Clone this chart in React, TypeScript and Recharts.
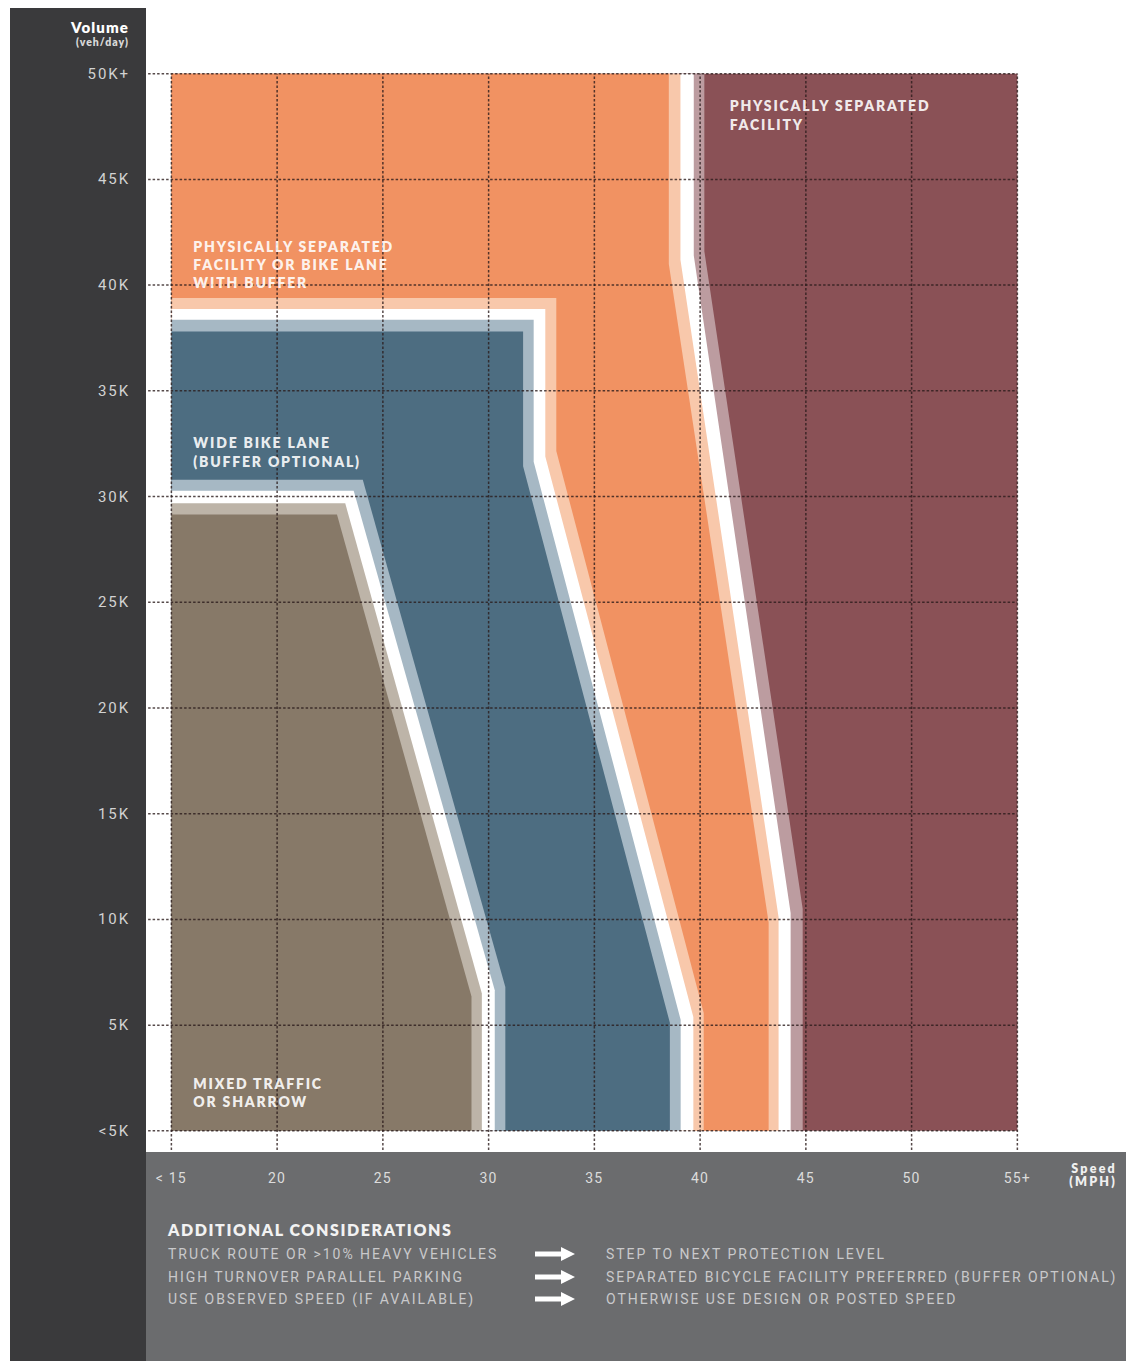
import React from 'react';
import { ComposedChart, Area, XAxis, YAxis, ReferenceLine, ReferenceDot } from 'recharts';

// axis ticks
const speedTicks = [15, 20, 25, 30, 35, 40, 45, 50, 55];
const speedLabels = ['< 15', '20', '25', '30', '35', '40', '45', '50', '55+'];
const volumeTicks = [0, 5, 10, 15, 20, 25, 30, 35, 40, 45, 50];
const volumeLabels = ['<5K', '5K', '10K', '15K', '20K', '25K', '30K', '35K', '40K', '45K', '50K+'];

// whole field (physically separated facility)
const facilityField = [
  { s: 15, v: 50 },
  { s: 55, v: 50 },
];

// boundary: separated facility / orange zone, outer edge -> inner edge
const sepTint = [
  { s: 15, v: 50 }, { s: 40.2, v: 50 }, { s: 40.2, v: 41.6 }, { s: 44.85, v: 10.5 }, { s: 44.85, v: 0 },
];
const sepGap = [
  { s: 15, v: 50 }, { s: 39.7, v: 50 }, { s: 39.7, v: 41.4 }, { s: 44.28, v: 10.3 }, { s: 44.28, v: 0 },
];
const bufferTintHigh = [
  { s: 15, v: 50 }, { s: 39.07, v: 50 }, { s: 39.07, v: 41.2 }, { s: 43.71, v: 10.1 }, { s: 43.71, v: 0 },
];
const bufferZone = [
  { s: 15, v: 50 }, { s: 38.52, v: 50 }, { s: 38.52, v: 41.0 }, { s: 43.24, v: 9.85 }, { s: 43.24, v: 0 },
];

// boundary: orange zone / wide bike lane
const bufferTintLow = [
  { s: 15, v: 39.39 }, { s: 33.2, v: 39.39 }, { s: 33.2, v: 32.15 }, { s: 40.17, v: 5.58 }, { s: 40.17, v: 0 },
];
const bufferGap = [
  { s: 15, v: 38.87 }, { s: 32.68, v: 38.87 }, { s: 32.68, v: 31.9 }, { s: 39.68, v: 5.39 }, { s: 39.68, v: 0 },
];
const laneTintHigh = [
  { s: 15, v: 38.36 }, { s: 32.13, v: 38.36 }, { s: 32.13, v: 31.65 }, { s: 39.08, v: 5.25 }, { s: 39.08, v: 0 },
];
const laneZone = [
  { s: 15, v: 37.81 }, { s: 31.63, v: 37.81 }, { s: 31.63, v: 31.43 }, { s: 38.57, v: 5.11 }, { s: 38.57, v: 0 },
];

// boundary: wide bike lane / mixed traffic
const laneTintLow = [
  { s: 15, v: 30.79 }, { s: 24.05, v: 30.79 }, { s: 30.79, v: 6.8 }, { s: 30.79, v: 0 },
];
const laneGap = [
  { s: 15, v: 30.28 }, { s: 23.62, v: 30.28 }, { s: 30.29, v: 6.65 }, { s: 30.29, v: 0 },
];
const mixedTint = [
  { s: 15, v: 29.68 }, { s: 23.22, v: 29.68 }, { s: 29.68, v: 6.5 }, { s: 29.68, v: 0 },
];
const mixedZone = [
  { s: 15, v: 29.15 }, { s: 22.83, v: 29.15 }, { s: 29.19, v: 6.35 }, { s: 29.19, v: 0 },
];

const layers: { data: { s: number; v: number }[]; fill: string }[] = [
  { data: facilityField, fill: '#8a5156' },
  { data: sepTint, fill: '#bc9ca0' },
  { data: sepGap, fill: '#ffffff' },
  { data: bufferTintHigh, fill: '#f8c8ab' },
  { data: bufferZone, fill: '#f19262' },
  { data: bufferTintLow, fill: '#f8c8ab' },
  { data: bufferGap, fill: '#ffffff' },
  { data: laneTintHigh, fill: '#a6b8c4' },
  { data: laneZone, fill: '#4d6d81' },
  { data: laneTintLow, fill: '#a6b8c4' },
  { data: laneGap, fill: '#ffffff' },
  { data: mixedTint, fill: '#bdb4a8' },
  { data: mixedZone, fill: '#877968' },
];

// zone labels, anchored at the first line's baseline
const zoneLabels = [
  { s: 41.4, v: 48.22, lines: ['PHYSICALLY SEPARATED', 'FACILITY'] },
  { s: 16.04, v: 41.59, lines: ['PHYSICALLY SEPARATED', 'FACILITY OR BIKE LANE', 'WITH BUFFER'] },
  { s: 16.04, v: 32.29, lines: ['WIDE BIKE LANE', '(BUFFER OPTIONAL)'] },
  { s: 16.04, v: 1.99, lines: ['MIXED TRAFFIC', 'OR SHARROW'] },
];

const considerations = [
  ['TRUCK ROUTE OR >10% HEAVY VEHICLES', 'STEP TO NEXT PROTECTION LEVEL'],
  ['HIGH TURNOVER PARALLEL PARKING', 'SEPARATED BICYCLE FACILITY PREFERRED (BUFFER OPTIONAL)'],
  ['USE OBSERVED SPEED (IF AVAILABLE)', 'OTHERWISE USE DESIGN OR POSTED SPEED'],
];

const gridStroke = '#2b1c1c';
const tickFont = 'Roboto, "Open Sans", sans-serif';
const labelFont = 'Lato, "DejaVu Sans", sans-serif';

function SpeedTick(props: any) {
  const { x, y, payload } = props;
  const i = speedTicks.indexOf(payload.value);
  return (
    <text x={x} y={y + 31} textAnchor="middle" fontFamily={tickFont} fontSize={14} letterSpacing={1.2} fill="#dcdcdc">
      {speedLabels[i]}
    </text>
  );
}

function VolumeTick(props: any) {
  const { x, y, payload } = props;
  const i = volumeTicks.indexOf(payload.value);
  return (
    <text x={x} y={y + 5} textAnchor="end" fontFamily={tickFont} fontSize={15} letterSpacing={1.9} fill="#d2d2d2">
      {volumeLabels[i]}
    </text>
  );
}

function makeZoneLabel(lines: string[]) {
  return function ZoneLabel(props: any) {
    const { cx, cy } = props;
    return (
      <text x={cx} y={cy} fontFamily={labelFont} fontWeight={800} fontSize={14} letterSpacing={1.8} fill="#ffffff" fillOpacity={0.9}>
        {lines.map((t, k) => (
          <tspan key={k} x={cx} dy={k === 0 ? 0 : 18.4}>
            {t}
          </tspan>
        ))}
      </text>
    );
  };
}

function Arrow() {
  return (
    <svg width={40} height={14} style={{ display: 'block' }}>
      <rect x={0} y={4.5} width={28} height={5} fill="#ffffff" />
      <polygon points="26,0 40,7 26,14" fill="#ffffff" />
    </svg>
  );
}

export default function App() {
  return (
    <div style={{ position: 'absolute', left: 0, top: 0, width: 1126, height: 1361, background: '#ffffff', overflow: 'hidden' }}>
      <div style={{ position: 'absolute', left: 10, top: 8, width: 136, height: 1353, background: '#3a3a3c' }} />
      <div style={{ position: 'absolute', left: 146, top: 1152, width: 980, height: 209, background: '#6b6c6e' }} />

      <div style={{ position: 'absolute', left: 0, top: 19, width: 129, textAlign: 'right', fontFamily: labelFont, color: '#ffffff' }}>
        <div style={{ fontSize: 15, fontWeight: 800, letterSpacing: 1.1, lineHeight: '17px' }}>Volume</div>
        <div style={{ fontSize: 10.5, fontWeight: 800, letterSpacing: 1, lineHeight: '12px', color: '#d8d8d8' }}>(veh/day)</div>
      </div>

      <div style={{ position: 'absolute', left: 0, top: 0 }}>
        <ComposedChart width={1126} height={1200} margin={{ top: 61, right: 60, left: 0, bottom: 0 }}>
          <XAxis
            type="number"
            dataKey="s"
            domain={[13.8, 57.3]}
            allowDataOverflow
            ticks={speedTicks}
            height={48}
            axisLine={false}
            tickLine={false}
            tickSize={0}
            tickMargin={0}
            tick={<SpeedTick />}
          />
          <YAxis
            type="number"
            dataKey="v"
            domain={[-1, 50.6]}
            allowDataOverflow
            ticks={volumeTicks}
            width={146}
            axisLine={false}
            tickLine={false}
            tickSize={0}
            tickMargin={16}
            tick={<VolumeTick />}
          />
          {layers.map((l, i) => (
            <Area
              key={i}
              data={l.data}
              dataKey="v"
              type="linear"
              baseValue={0}
              stroke="none"
              fill={l.fill}
              fillOpacity={1}
              dot={false}
              activeDot={false}
              isAnimationActive={false}
            />
          ))}
          {volumeTicks.map((v) => (
            <ReferenceLine
              key={'h' + v}
              segment={[{ x: 13.9, y: v }, { x: 55, y: v }]}
              stroke={gridStroke}
              strokeOpacity={0.8}
              strokeWidth={1.5}
              strokeDasharray="2.5 2"
              ifOverflow="visible"
            />
          ))}
          {speedTicks.map((s) => (
            <ReferenceLine
              key={'v' + s}
              segment={[{ x: s, y: -0.9 }, { x: s, y: 50 }]}
              stroke={gridStroke}
              strokeOpacity={0.8}
              strokeWidth={1.5}
              strokeDasharray="2.5 2"
              ifOverflow="visible"
            />
          ))}
          {zoneLabels.map((z, i) => (
            <ReferenceDot key={'z' + i} x={z.s} y={z.v} r={0} ifOverflow="visible" shape={makeZoneLabel(z.lines)} />
          ))}
        </ComposedChart>
      </div>

      <div style={{ position: 'absolute', left: 1040, top: 1162, width: 77, textAlign: 'right', fontFamily: labelFont, fontWeight: 800, fontSize: 12.5, letterSpacing: 2.2, lineHeight: '13px', color: '#f0f0f0' }}>
        <div>Speed</div>
        <div>(MPH)</div>
      </div>

      <div style={{ position: 'absolute', left: 168, top: 1220, fontFamily: labelFont, fontWeight: 800, fontSize: 16, letterSpacing: 1.6, color: '#f2f2f2', lineHeight: '20px', whiteSpace: 'nowrap' }}>
        ADDITIONAL CONSIDERATIONS
      </div>
      {considerations.map((row, i) => (
        <div key={i} style={{ position: 'absolute', left: 0, top: 1244 + i * 22.5, width: 1126, height: 20 }}>
          <div style={{ position: 'absolute', left: 168, top: 0, fontFamily: tickFont, fontSize: 14, letterSpacing: 1.95, lineHeight: '20px', color: '#c9c9cb', whiteSpace: 'nowrap' }}>
            {row[0]}
          </div>
          <div style={{ position: 'absolute', left: 535, top: 3 }}>
            <Arrow />
          </div>
          <div style={{ position: 'absolute', left: 606, top: 0, fontFamily: tickFont, fontSize: 14, letterSpacing: 1.95, lineHeight: '20px', color: '#c9c9cb', whiteSpace: 'nowrap' }}>
            {row[1]}
          </div>
        </div>
      ))}
    </div>
  );
}
